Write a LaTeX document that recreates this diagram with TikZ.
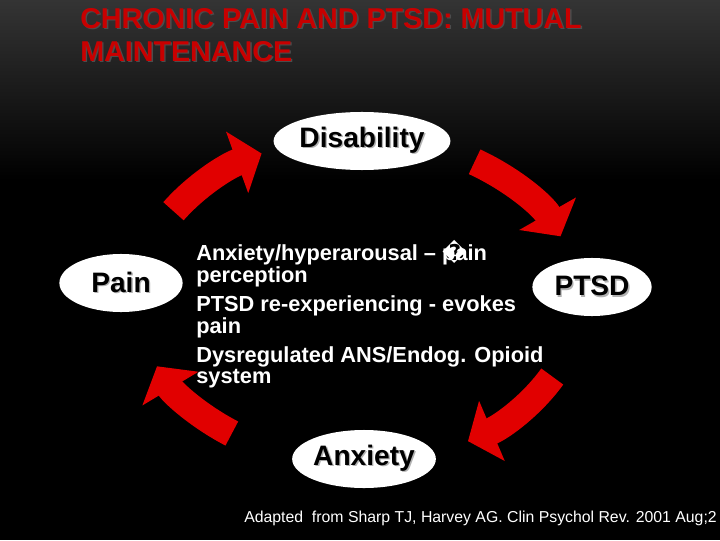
\documentclass[tikz,border=0pt]{standalone}
\usepackage{fontspec}
\setmainfont{Liberation Sans}
\newfontfamily\dejavu{DejaVu Sans}
\usetikzlibrary{arrows.meta,shapes.geometric}
\definecolor{titlered}{RGB}{200,0,0}
\definecolor{arrowred}{RGB}{225,0,0}
\definecolor{topgrey}{RGB}{52,52,52}
\newcommand{\glowtext}[2]{\makebox[0pt][l]{\kern1pt\raisebox{-1pt}{\color{#1}#2}}#2}

\begin{document}
\begin{tikzpicture}[x=0.025cm,y=0.025cm,
  stage/.style={ellipse,fill=white,inner sep=0pt,minimum height=1.45cm,
    font=\bfseries\fontsize{20}{24}\selectfont,text=black},
  cyclearrow/.style={arrowred,line width=0.68cm,-{Triangle[length=0.65cm,width=1.6cm]}}]
% background
\fill[black] (0,0) rectangle (720,540);
\shade[top color=topgrey,bottom color=black] (0,360) rectangle (720,540);
\useasboundingbox (0,0) rectangle (720,540);

% title
\node[anchor=north west,inner sep=0pt,align=left,text=titlered,
  font=\bfseries\fontsize{20.4}{23.5}\selectfont] (title) at (80,532)
  {\glowtext{black!70}{CHRONIC PAIN AND PTSD: MUTUAL}\\\glowtext{black!70}{MAINTENANCE}};

% cycle stages
\node[stage,minimum width=3.25cm] (disability) at (362,399) {\glowtext{gray!60}{Disability}};
\node[stage,minimum width=3.08cm] (pain) at (121,257) {\glowtext{gray!60}{Pain}};
\node[stage,minimum width=2.98cm] (ptsd) at (592,253) {\glowtext{gray!60}{PTSD}};
\node[stage,minimum width=3.3cm] (anxiety) at (364,81) {\glowtext{gray!60}{Anxiety}};

% curved arrows round the hub
\coordinate (hub) at (358,240);
\draw[cyclearrow] (hub) ++(147:220 and 163) arc[start angle=147,end angle=116,x radius=220,y radius=163];
\draw[cyclearrow] (hub) ++(58:220 and 163) arc[start angle=58,end angle=23,x radius=220,y radius=163];
\draw[cyclearrow] (hub) ++(-28:220 and 163) arc[start angle=-28,end angle=-60,x radius=220,y radius=163];
\draw[cyclearrow] (hub) ++(235:220 and 163) arc[start angle=235,end angle=204,x radius=220,y radius=163];

% mechanisms
\node[anchor=north west,inner sep=0pt,align=left,text=white,
  font=\bfseries\fontsize{15.5}{11.8}\selectfont] (notes) at (196,300)
  {Anxiety/hyperarousal -- \rlap{\dejavu �}pain\\perception\\[5.5pt]
   PTSD re-experiencing - evokes\\pain\\[5.5pt]
   Dysregulated ANS/Endog. Opioid\\system};

% source
\node[anchor=base west,inner sep=0pt,text=white,font=\fontsize{11.25}{13}\selectfont] (source) at (244,18)
  {Adapted\ \ from Sharp TJ, Harvey AG. Clin Psychol Rev. 2001 Aug;2};
\end{tikzpicture}
\end{document}
